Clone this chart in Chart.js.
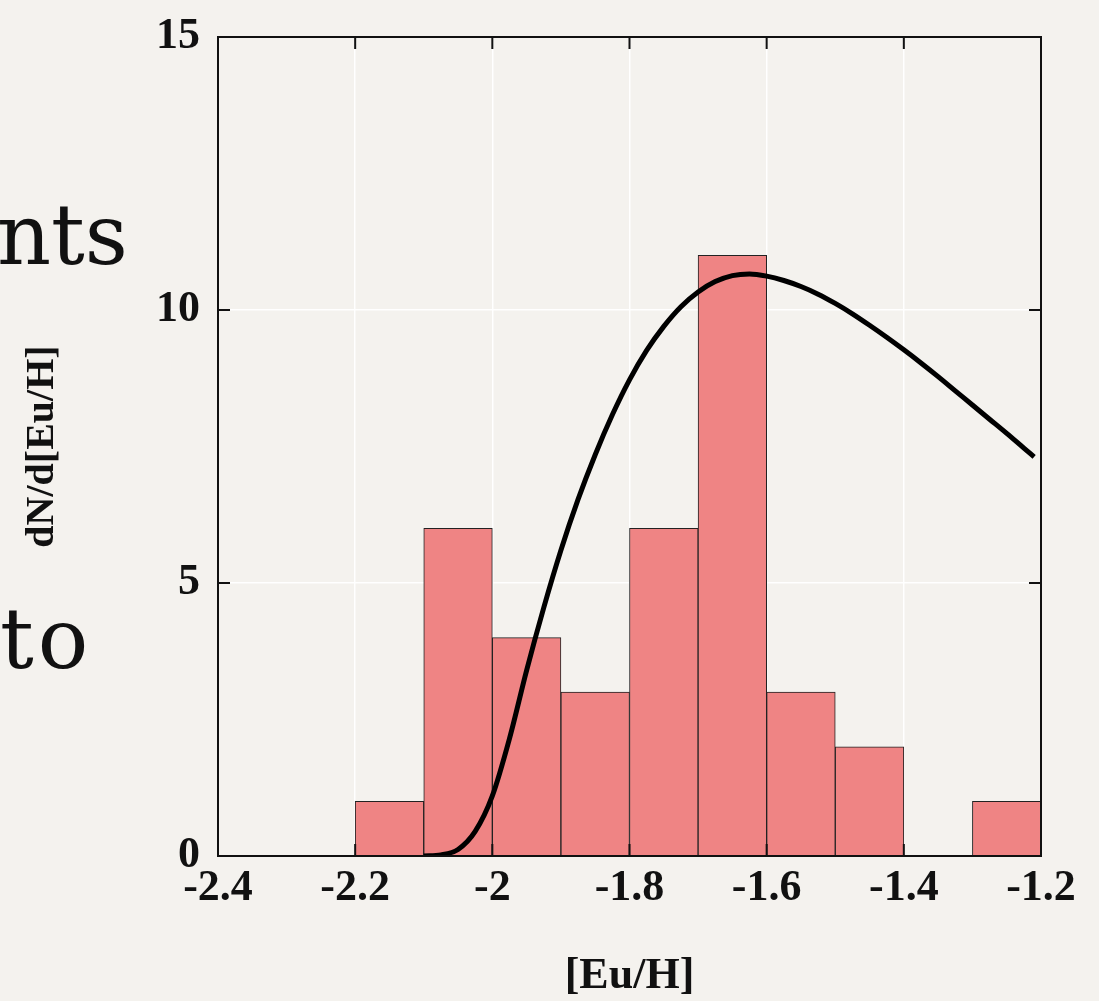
<!DOCTYPE html>
<html>
<head>
<meta charset="utf-8">
<script src="https://cdn.jsdelivr.net/npm/chart.js@4"></script>
<style>
body { margin: 0; background: #f4f2ee; }
#wrap { position: relative; width: 1099px; height: 1001px; overflow: hidden; }
.slide { position: absolute; font-family: "DejaVu Serif"; font-size: 84px; line-height: 84px; color: #111; }
canvas { position: absolute; left: 0; top: 0; }
</style>
</head>
<body>
<div id="wrap">
  <div class="slide" style="left:-3px;top:193px">nts</div>
  <div class="slide" style="left:0px;top:597px;letter-spacing:4px">to</div>
  <canvas id="chart" width="1099" height="1001"></canvas>
</div>
<script>
// histogram bins (centres, width 0.1) and counts
const binCenters = [-2.15, -2.05, -1.95, -1.85, -1.75, -1.65, -1.55, -1.45, -1.35, -1.25];
const counts = [1, 6, 4, 3, 6, 11, 3, 2, 0, 1];

// fitted curve
const fitX = [-2.1, -2.075, -2.05, -2.025, -2.0, -1.975, -1.95, -1.925, -1.9, -1.875, -1.85, -1.825, -1.8,
  -1.775, -1.75, -1.725, -1.7, -1.675, -1.65, -1.625, -1.6, -1.575, -1.55, -1.525, -1.5, -1.475, -1.45,
  -1.425, -1.4, -1.375, -1.35, -1.325, -1.3, -1.275, -1.25, -1.225, -1.21];
const fitY = [0, 0.02, 0.12, 0.45, 1.1, 2.15, 3.4, 4.55, 5.6, 6.53, 7.35, 8.08, 8.72,
  9.26, 9.7, 10.06, 10.33, 10.52, 10.63, 10.66, 10.62, 10.54, 10.43, 10.29, 10.12, 9.93, 9.72,
  9.5, 9.27, 9.03, 8.78, 8.52, 8.26, 8.0, 7.74, 7.47, 7.31];

const xTickValues = [-2.4, -2.2, -2.0, -1.8, -1.6, -1.4, -1.2];
const yTickValues = [0, 5, 10, 15];

const tickFont = { family: "'Liberation Serif', 'Times New Roman', serif", size: 44, weight: "bold" };

// frame on top/right plus inward tick marks on all sides
const frame = {
  id: "frame",
  afterDraw(chart) {
    const { ctx, chartArea: a, scales } = chart;
    ctx.save();
    ctx.strokeStyle = "#111";
    ctx.lineWidth = 2;
    ctx.strokeRect(a.left, a.top, a.right - a.left, a.bottom - a.top);
    ctx.beginPath();
    xTickValues.forEach(v => {
      const px = scales.x.getPixelForValue(v);
      ctx.moveTo(px, a.bottom); ctx.lineTo(px, a.bottom - 12);
      ctx.moveTo(px, a.top); ctx.lineTo(px, a.top + 12);
    });
    yTickValues.forEach(v => {
      const py = scales.y.getPixelForValue(v);
      ctx.moveTo(a.left, py); ctx.lineTo(a.left + 12, py);
      ctx.moveTo(a.right, py); ctx.lineTo(a.right - 12, py);
    });
    ctx.stroke();
    ctx.restore();
  }
};

new Chart(document.getElementById("chart"), {
  data: {
    datasets: [
      {
        type: "line",
        order: 0,
        data: fitX.map((x, i) => ({ x: x, y: fitY[i] })),
        borderColor: "#000",
        borderWidth: 5,
        pointRadius: 0,
        cubicInterpolationMode: "monotone",
        fill: false
      },
      {
        type: "bar",
        order: 1,
        data: binCenters.map((x, i) => ({ x: x, y: counts[i] })),
        backgroundColor: "#ef8484",
        borderColor: "#222",
        borderWidth: 1,
        barPercentage: 1,
        categoryPercentage: 1
      }
    ]
  },
  options: {
    responsive: false,
    animation: false,
    layout: { padding: { left: 0, top: 37, right: 58, bottom: 0 } },
    plugins: { legend: { display: false }, tooltip: { enabled: false } },
    scales: {
      x: {
        type: "linear",
        offset: false,
        min: -2.4,
        max: -1.2,
        afterBuildTicks: s => { s.ticks = xTickValues.map(v => ({ value: v })); },
        afterFit: s => { s.height = 145; s.paddingLeft = 0; s.paddingRight = 0; },
        grid: { color: "rgba(255,255,255,0.95)", lineWidth: 1.5, drawTicks: false, offset: false },
        border: { color: "#111", width: 2 },
        ticks: {
          color: "#111",
          font: tickFont,
          padding: 6,
          maxRotation: 0,
          callback: v => String(Number(v.toFixed(1)))
        },
        title: {
          display: true,
          text: "[Eu/H]",
          color: "#111",
          font: { family: tickFont.family, size: 44, weight: "bold", lineHeight: 1.1 },
          padding: { top: 0, bottom: 0 }
        }
      },
      y: {
        min: 0,
        max: 15,
        afterBuildTicks: s => { s.ticks = yTickValues.map(v => ({ value: v })); },
        afterFit: s => { s.width = 218; s.paddingTop = 0; s.paddingBottom = 0; },
        grid: { color: "rgba(255,255,255,0.95)", lineWidth: 1.5, drawTicks: false },
        border: { color: "#111", width: 2 },
        ticks: { color: "#111", font: tickFont, padding: 18 },
        title: {
          display: true,
          text: "dN/d[Eu/H]",
          color: "#111",
          font: { family: tickFont.family, size: 40, weight: "bold" },
          padding: { top: 19, bottom: 0 }
        }
      }
    }
  },
  plugins: [frame]
});
</script>
</body>
</html>
